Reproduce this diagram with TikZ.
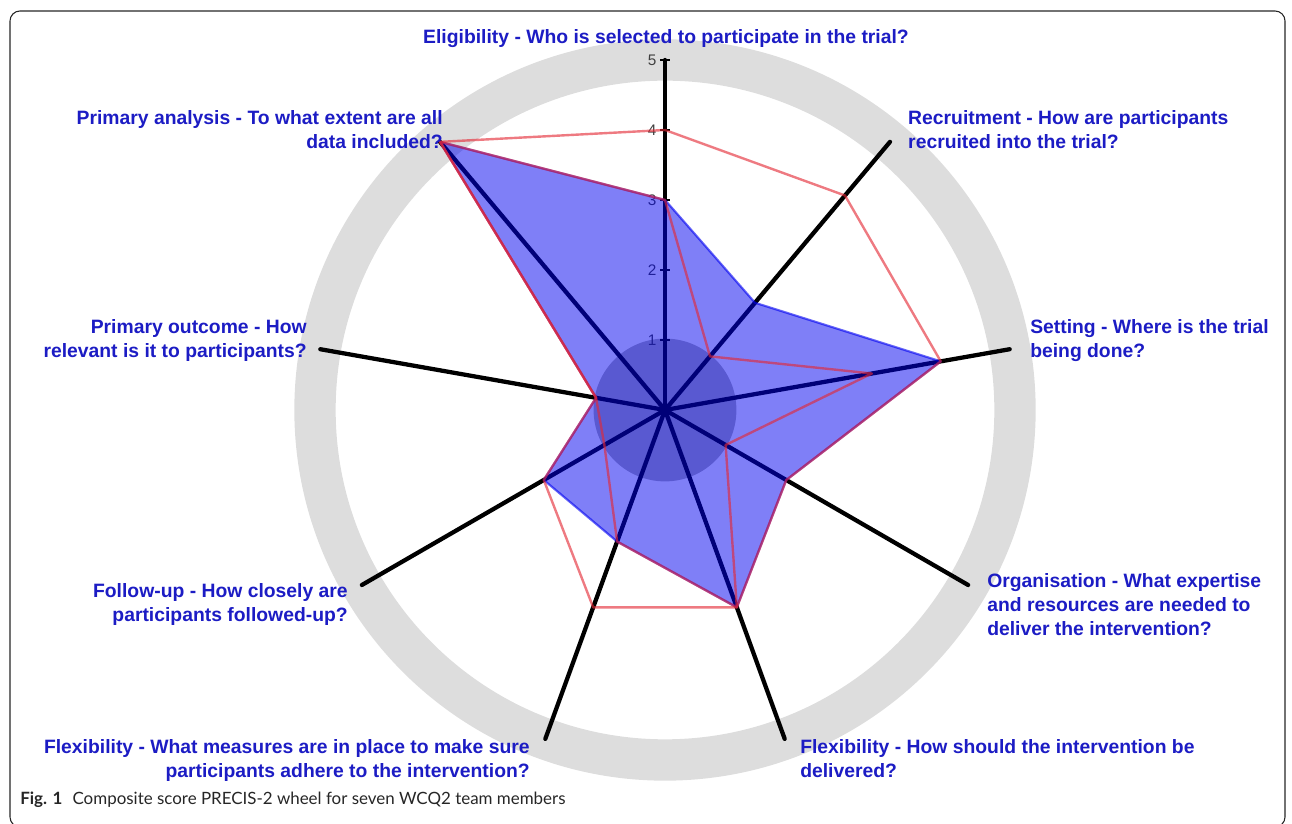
\documentclass[tikz,border=0pt]{standalone}
\usepackage{fontspec}
\usepackage{tikz}
\usepackage{tkz-euclide}
\usepackage{xcolor}
\usetikzlibrary{arrows, calc}
\newfontfamily\wheelfont{Liberation Sans}
\newfontfamily\figfont{Lato}
\definecolor{labelblue}{RGB}{28,28,196}
\definecolor{ringgray}{RGB}{221,221,221}
\definecolor{scorered}{RGB}{228,40,52}
\definecolor{scoreblue}{RGB}{0,0,240}
\tikzset{
  axisline/.style={line width=3.2pt, black},
  tickline/.style={line width=1.8pt, black},
  ticklabel/.style={font=\wheelfont\fontsize{11.5}{13}\selectfont, text=black!75, inner sep=0pt, anchor=east},
  dimlabel/.style={font=\wheelfont\bfseries\fontsize{14.5}{18}\selectfont, text=labelblue, inner sep=0pt},
  scorefill/.style={fill=scoreblue, fill opacity=.5, draw=scoreblue, draw opacity=.6, line width=1.6pt, line join=round},
  scoreline/.style={draw=scorered, draw opacity=.62, line width=1.8pt, line join=round}
}

\begin{document}
\begin{tikzpicture}[x=52.5pt, y=52.5pt]
    \useasboundingbox (-9.5,-5.914) rectangle (8.957,5.857);
    \draw[line width=0.8pt, black!85, rounded corners=7.5pt] (-9.357,5.7) rectangle (8.857,-5.957);
    \tkzDefPoint(0,0){O}
    \draw[ringgray, line width=31pt] (O) circle (5);
    \fill[black, opacity=.3] (O) circle (1.02);
    \tkzDefPoint(90:5){a_1}
    \tkzDefPoint(50:5){a_2}
    \tkzDefPoint(10:5){a_3}
    \tkzDefPoint(-30:5){a_4}
    \tkzDefPoint(-70:5){a_5}
    \tkzDefPoint(-110:5){a_6}
    \tkzDefPoint(-150:5){a_7}
    \tkzDefPoint(170:5){a_8}
    \tkzDefPoint(130:5){a_9}
    \tkzDrawSegments[axisline](O,a_1 O,a_2 O,a_3 O,a_4 O,a_5 O,a_6 O,a_7 O,a_8 O,a_9)
    \foreach \v in {1,...,5}{
      \draw[tickline] (-0.07,\v) -- (0.07,\v);
      \node[ticklabel] (tick\v) at (-0.12,\v) {\v};
    }
    \tkzDefPoint(90:3){b_1}
    \tkzDefPoint(50:2){b_2}
    \tkzDefPoint(10:4){b_3}
    \tkzDefPoint(-30:2){b_4}
    \tkzDefPoint(-70:3){b_5}
    \tkzDefPoint(-110:2){b_6}
    \tkzDefPoint(-150:2){b_7}
    \tkzDefPoint(170:1){b_8}
    \tkzDefPoint(130:5){b_9}
    \tkzDrawPolygon[scorefill](b_1,b_2,b_3,b_4,b_5,b_6,b_7,b_8,b_9)
    \tkzDefPoint(90:4){r_1}
    \tkzDefPoint(50:4){r_2}
    \tkzDefPoint(10:4){r_3}
    \tkzDefPoint(-30:2){r_4}
    \tkzDefPoint(-70:3){r_5}
    \tkzDefPoint(-110:3){r_6}
    \tkzDefPoint(-150:2){r_7}
    \tkzDefPoint(170:1){r_8}
    \tkzDefPoint(130:5){r_9}
    \tkzDrawPolygon[scoreline](r_1,r_2,r_3,r_4,r_5,r_6,r_7,r_8,r_9)
    \tkzDefPoint(90:3){s_1}
    \tkzDefPoint(50:1){s_2}
    \tkzDefPoint(10:3){s_3}
    \tkzDefPoint(-30:1){s_4}
    \tkzDefPoint(-70:3){s_5}
    \tkzDefPoint(-110:2){s_6}
    \tkzDefPoint(-150:1){s_7}
    \tkzDefPoint(170:1){s_8}
    \tkzDefPoint(130:5){s_9}
    \tkzDrawPolygon[scoreline](s_1,s_2,s_3,s_4,s_5,s_6,s_7,s_8,s_9)
    \node[dimlabel, anchor=north] (elig) at (0.014,5.436) {Eligibility - Who is selected to participate in the trial?};
    \node[dimlabel, anchor=north west, align=left] (recruit) at (3.471,4.286) {Recruitment - How are participants\\recruited into the trial?};
    \node[dimlabel, anchor=north west, align=left] (setting) at (5.214,1.3) {Setting - Where is the trial\\being done?};
    \node[dimlabel, anchor=north west, align=left] (organis) at (4.6,-2.329) {Organisation - What expertise\\and resources are needed to\\deliver the intervention?};
    \node[dimlabel, anchor=north west, align=left] (flexdel) at (1.929,-4.7) {Flexibility - How should the intervention be\\delivered?};
    \node[dimlabel, anchor=north east, align=right] (flexadh) at (-1.929,-4.7) {Flexibility - What measures are in place to make sure\\participants adhere to the intervention?};
    \node[dimlabel, anchor=north east, align=right] (followup) at (-4.529,-2.471) {Follow-up - How closely are\\participants followed-up?};
    \node[dimlabel, anchor=north east, align=right] (outcome) at (-5.114,1.3) {Primary outcome - How\\relevant is it to participants?};
    \node[dimlabel, anchor=north east, align=right] (analysis) at (-3.171,4.286) {Primary analysis - To what extent are all\\data included?};
    \node[anchor=base west, inner sep=0pt, text=black!85, font=\figfont\fontsize{12.7}{15}\selectfont] (caption) at (-9.214,-5.629) {\textbf{Fig. 1}\hspace{0.6em}Composite score PRECIS-2 wheel for seven WCQ2 team members};
\end{tikzpicture}
\end{document}
